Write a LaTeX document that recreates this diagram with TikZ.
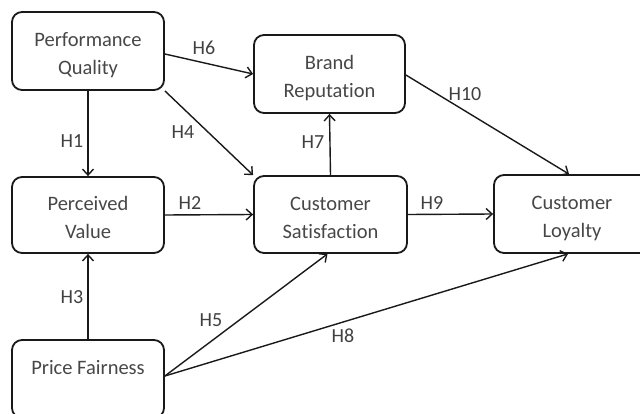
\documentclass[tikz,border=0pt]{standalone}
\usepackage{fontspec}
\setmainfont{Carlito}[Ligatures={NoCommon}]
\usetikzlibrary{arrows.meta}
\newcommand{\bxtext}[1]{\raisebox{0pt}[\dimexpr\height+8pt\relax][\depth]{\begin{tabular}{@{}c@{}}#1\end{tabular}}}
\begin{document}
\begin{tikzpicture}[x=1pt,y=-1pt,
  box/.style={draw=black!90, line width=1.8pt, rounded corners=10pt, align=center,
    text=black!72, font=\fontsize{20.5}{28}\selectfont, inner sep=0pt},
  lab/.style={text=black!75, font=\fontsize{20}{24}\selectfont, inner sep=0pt},
  arr/.style={draw=black!90, line width=1.4pt, -{Straight Barb[length=6pt,width=11pt,line width=1.4pt]}}
]
\useasboundingbox (0,0) rectangle (640,414);
\clip (0,0) rectangle (640,414);
\node[box, minimum width=152pt, minimum height=78pt] (pq) at (88,51) {\bxtext{Performance\\Quality}};
\node[box, minimum width=151pt, minimum height=78pt] (br) at (329.5,74) {\bxtext{Brand\\Reputation}};
\node[box, minimum width=152pt, minimum height=76pt] (pv) at (88,215) {\bxtext{Perceived\\Value}};
\node[box, minimum width=153pt, minimum height=77pt] (cs) at (330.5,214.5) {\bxtext{Customer\\Satisfaction}};
\node[box, minimum width=156pt, minimum height=78pt] (cl) at (572,214) {\bxtext{Customer\\Loyalty}};
\node[box, minimum width=152pt, minimum height=78pt] (pf) at (88,379) {\bxtext{Price Fairness\\\strut}};

\draw[arr] (pq.south) -- (pv.north);
\draw[arr] ([yshift=-3pt]pq.east) -- (br.west);
\draw[arr] (pq.south east) -- (cs.north west);
\draw[arr] (pv.east) -- (cs.west);
\draw[arr] (cs.north) -- (br.south);
\draw[arr] ([yshift=-1pt]br.east) -- ([xshift=-3pt]cl.north);
\draw[arr] (cs.east) -- (cl.west);
\draw[arr] (pf.north) -- (pv.south);
\draw[arr] ([yshift=3pt]pf.east) -- ([xshift=-3pt]cs.south);
\draw[arr] ([yshift=3pt]pf.east) -- ([xshift=-4pt]cl.south);

\node[lab] (h1) at (72,141) {H1};
\node[lab] (h6) at (204,48) {H6};
\node[lab] (h4) at (183,132) {H4};
\node[lab] (h2) at (190,203) {H2};
\node[lab] (h7) at (313,142) {H7};
\node[lab] (h10) at (465,94) {H10};
\node[lab] (h9) at (432,203) {H9};
\node[lab] (h3) at (72,297) {H3};
\node[lab] (h5) at (211,320) {H5};
\node[lab] (h8) at (343,336) {H8};
\end{tikzpicture}
\end{document}
